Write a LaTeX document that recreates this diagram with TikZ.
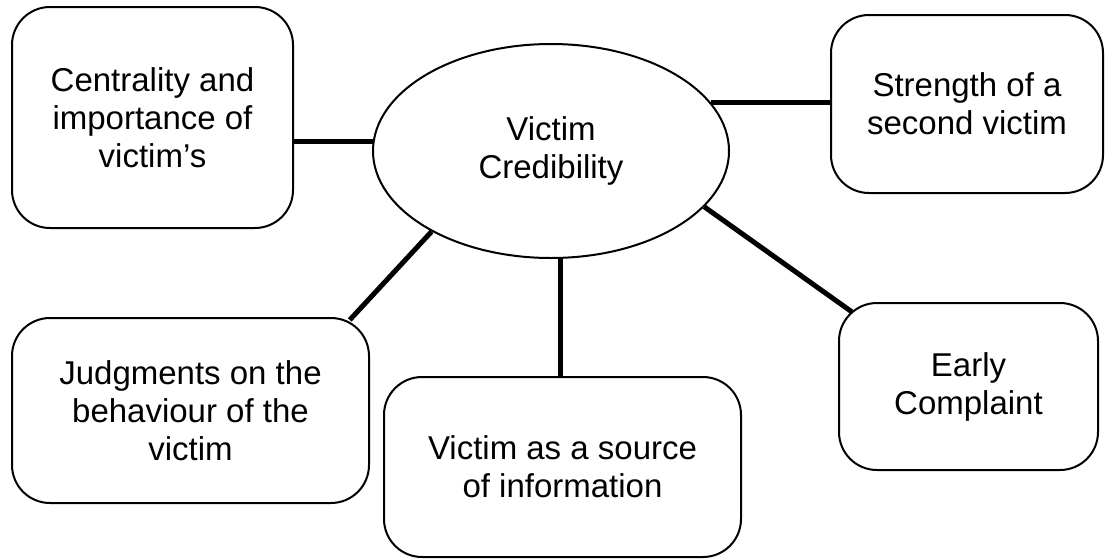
\documentclass[tikz,border=0pt]{standalone}
\usepackage{fontspec}
\setmainfont{Liberation Sans}
\usetikzlibrary{shapes}

\begin{document}
\begin{tikzpicture}[x=1pt, y=-1pt]

  % Define styles for the boxes
  \tikzstyle{factor} = [rectangle, draw, line width=2pt, rounded corners=38pt, align=center, inner sep=0pt, font=\fontsize{33}{38}\selectfont]
  \tikzstyle{core} = [ellipse, draw, line width=2pt, align=center, inner sep=0pt, minimum width=356pt, minimum height=214pt, font=\fontsize{33}{38}\selectfont]
  \tikzstyle{link} = [line width=5pt]

  \useasboundingbox (0,0) rectangle (1106,558);

  % Centre
  \node[core] (credib) at (551,151) {Victim\\Credibility};

  % Factors
  \node[factor, minimum width=281pt, minimum height=221pt] (central) at (152.5,117.5) {Centrality and\\importance of\\victim’s};
  \node[factor, minimum width=272pt, minimum height=178pt] (second) at (967,104) {Strength of a\\second victim};
  \node[factor, minimum width=357pt, minimum height=185pt] (behave) at (190.5,410.5) {Judgments on the\\behaviour of the\\victim};
  \node[factor, minimum width=357pt, minimum height=180pt] (source) at (562.5,467) {Victim as a source\\of information};
  \node[factor, minimum width=259pt, minimum height=167pt] (early) at (968.5,386.5) {Early\\Complaint};

  % Links
  \draw[link] (credib.177) -- (central.east |- credib.177);
  \draw[link] (credib.17) -- (second.west |- credib.17);
  \draw[link, shorten >=-4pt] (credib.214) -- (behave.30);
  \draw[link] (credib.275) -- (credib.275 |- source.north);
  \draw[link, shorten >=-17pt] (credib.340) -- (early.north west);

\end{tikzpicture}
\end{document}
